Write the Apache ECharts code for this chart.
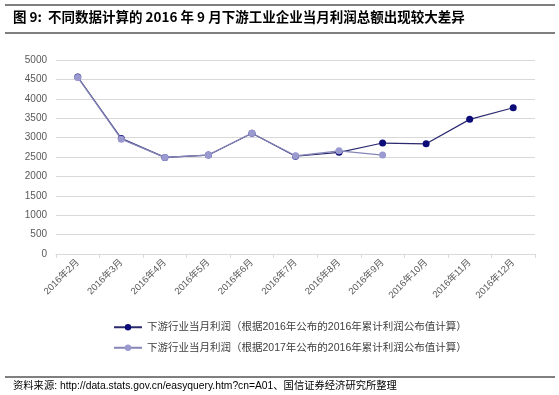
<!DOCTYPE html>
<html><head><meta charset="utf-8">
<script src="https://cdn.jsdelivr.net/npm/echarts@6/dist/echarts.min.js"></script>
<style>html,body{margin:0;padding:0;background:#fff}#c{width:559px;height:395px}</style>
</head><body><div id="c"></div>
<script>
var categories = ['2016年2月','2016年3月','2016年4月','2016年5月','2016年6月','2016年7月','2016年8月','2016年9月','2016年10月','2016年11月','2016年12月'];
var seriesDark = [4560, 2980, 2490, 2550, 3110, 2520, 2620, 2860, 2840, 3470, 3770];
var seriesLight = [4550, 2960, 2490, 2550, 3110, 2530, 2660, 2550, null, null, null];
var nameDark = '下游行业当月利润（根据2016年公布的2016年累计利润公布值计算）';
var nameLight = '下游行业当月利润（根据2017年公布的2016年累计利润公布值计算）';
var yTicks = [0, 500, 1000, 1500, 2000, 2500, 3000, 3500, 4000, 4500, 5000];
var titleText = '图 9:  不同数据计算的 2016 年 9 月下游工业企业当月利润总额出现较大差异';
var sourceText = '资料来源: http://data.stats.gov.cn/easyquery.htm?cn=A01、国信证券经济研究所整理';
var highlightCat = '2016年9月', highlightVal = 2730, highlightSpan = 1350;

var font = '"Liberation Sans", Arial, "Noto Sans CJK SC", sans-serif';
var chart = echarts.init(document.getElementById('c'));
var option = {
  animation: false,
  backgroundColor: '#fff',
  grid: {left: 56, right: 24, top: 60, bottom: 141},
  legend: {
    orient: 'vertical', left: 108, top: 317, itemWidth: 28, itemHeight: 8, itemGap: 10,
    textStyle: {fontSize: 10.5, color: '#404040', fontFamily: font},
    data: [nameDark, nameLight]
  },
  xAxis: {
    type: 'category', data: categories, boundaryGap: true,
    axisLine: {lineStyle: {color: '#d9d9d9'}},
    axisTick: {show: true, alignWithLabel: false, lineStyle: {color: '#d9d9d9'}, length: 4},
    axisLabel: {rotate: 45, fontSize: 9.5, color: '#595959', margin: 7, fontFamily: font, interval: 0}
  },
  yAxis: {
    type: 'value', min: yTicks[0], max: yTicks[yTicks.length-1], interval: 500,
    axisLine: {show: false}, axisTick: {show: false},
    splitLine: {lineStyle: {color: '#d9d9d9'}},
    axisLabel: {fontSize: 10, color: '#595959', margin: 9, fontFamily: font, formatter: function(v){ return String(v); }}
  },
  series: [
    {name: nameDark, type: 'line', data: seriesDark, symbol: 'circle', symbolSize: 7,
     itemStyle: {color: '#0c0c78'}, lineStyle: {color: '#2a2a70', width: 1.2}, z: 2},
    {name: nameLight, type: 'line', data: seriesLight, symbol: 'circle', symbolSize: 7,
     itemStyle: {color: '#9a9ad0'}, lineStyle: {color: '#8585b8', width: 1.2}, z: 3}
  ],
  graphic: [
    {type: 'line', shape: {x1: 5, y1: 5, x2: 555, y2: 5}, style: {stroke: '#000', lineWidth: 1.2}},
    {type: 'text', left: 13, top: 10, style: {text: titleText, font: 'bold 13.5px "Noto Sans CJK SC", sans-serif', fill: '#000'}},
    {type: 'line', shape: {x1: 5, y1: 33, x2: 555, y2: 33}, style: {stroke: '#000', lineWidth: 1.2}},
    {type: 'line', shape: {x1: 5, y1: 377, x2: 555, y2: 377}, style: {stroke: '#000', lineWidth: 1}},
    {type: 'text', left: 13, top: 381, style: {text: sourceText, font: '10.3px ' + font, fill: '#000'}}
  ]
};
chart.setOption(option);
var top = chart.convertToPixel({gridIndex: 0}, [highlightCat, highlightVal + highlightSpan]);
var bot = chart.convertToPixel({gridIndex: 0}, [highlightCat, highlightVal - highlightSpan]);
chart.setOption({graphic: option.graphic.concat([
  {type: 'ellipse', shape: {cx: top[0], cy: (top[1] + bot[1]) / 2, rx: 13.5, ry: (bot[1] - top[1]) / 2},
   style: {fill: 'none', stroke: '#e0202a', lineWidth: 1, lineDash: [3, 2]}, z: 10}
])});
</script></body></html>
